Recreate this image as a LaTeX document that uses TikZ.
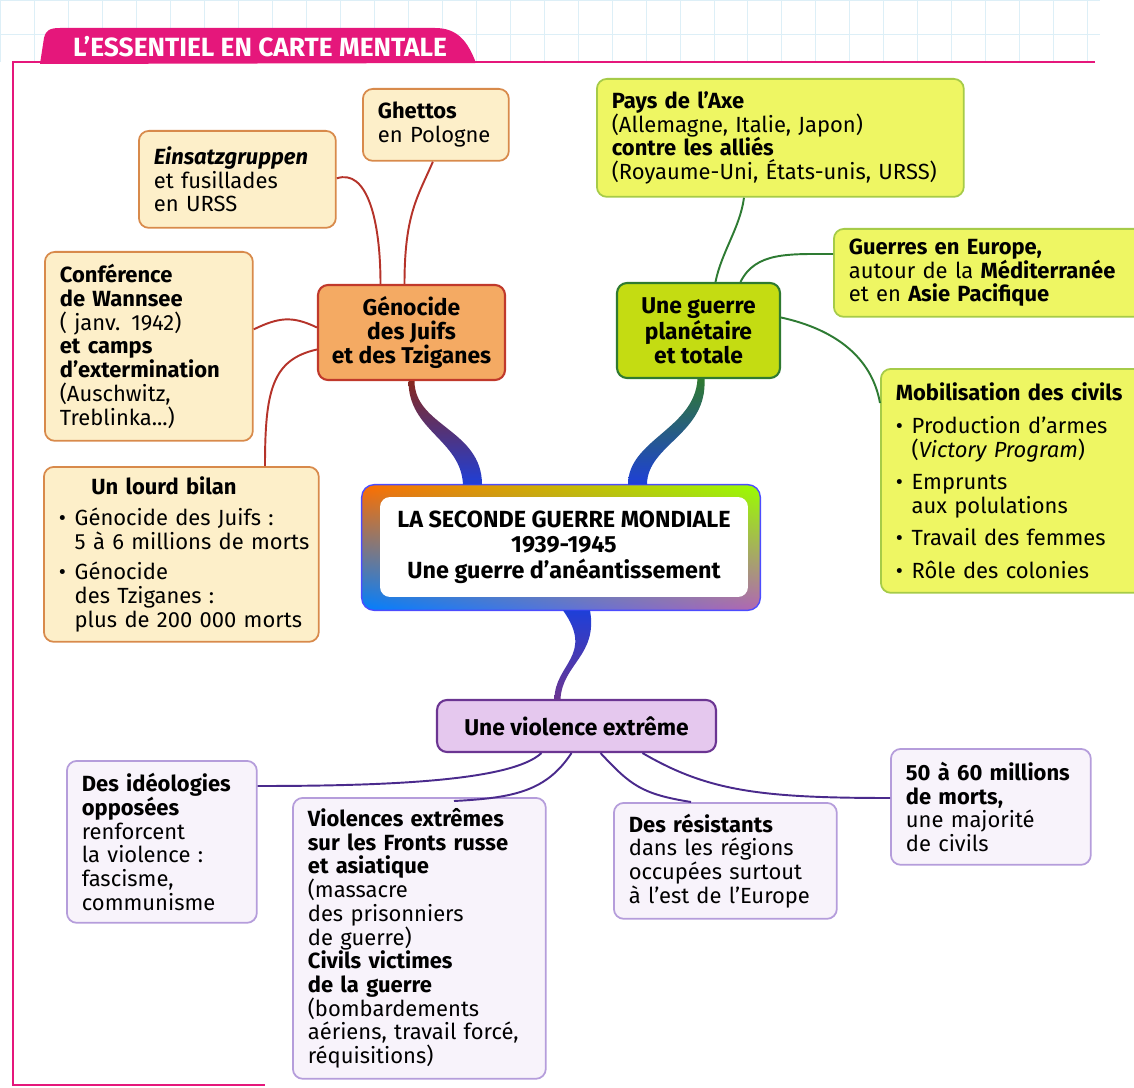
\documentclass[tikz,border=0pt]{standalone}
\usepackage{fontspec}
\setmainfont{Fira Sans}
\usetikzlibrary{calc,backgrounds,shadings}

\definecolor{pinkframe}{HTML}{E5177B}
\definecolor{gridblue}{HTML}{DDEFF7}
\definecolor{orfill}{HTML}{FDEFC9}
\definecolor{ordraw}{HTML}{D88A4B}
\definecolor{orhubfill}{HTML}{F4AA63}
\definecolor{orhubdraw}{HTML}{C0392B}
\definecolor{orwire}{HTML}{B5332A}
\definecolor{grfill}{HTML}{EEF663}
\definecolor{grdraw}{HTML}{A6CB48}
\definecolor{grhubfill}{HTML}{C4DC12}
\definecolor{grhubdraw}{HTML}{2F7A30}
\definecolor{grwire}{HTML}{2E7B33}
\definecolor{vifill}{HTML}{F8F3FB}
\definecolor{vidraw}{HTML}{B59DDB}
\definecolor{vihubfill}{HTML}{E5C8EE}
\definecolor{vihubdraw}{HTML}{6B3592}
\definecolor{viwire}{HTML}{4A2A8C}
\definecolor{branchblue}{HTML}{1E3FD8}

\newcommand{\puce}{\makebox[9pt][l]{\textbullet}}
\newcommand{\retrait}{\hspace*{9pt}}

\tikzset{
  leaf/.style={draw, rounded corners=0.2cm, line width=1pt, inner xsep=0.3cm,
    inner ysep=0.15cm, align=left, anchor=north west,
    font=\fontsize{12.5}{13.5}\selectfont},
  orleaf/.style={leaf, fill=orfill, draw=ordraw},
  grleaf/.style={leaf, fill=grfill, draw=grdraw},
  vileaf/.style={leaf, fill=vifill, draw=vidraw},
  hub/.style={draw, rounded corners=0.2cm, line width=1.2pt, align=center,
    font=\bfseries\fontsize{13}{13.5}\selectfont},
  orwire/.style={draw=orwire, line width=1.1pt},
  grwire/.style={draw=grwire, line width=1.1pt},
  viwire/.style={draw=viwire, line width=1.1pt},
}

\begin{document}
\begin{tikzpicture}[x=0.02cm, y=-0.02cm]
\useasboundingbox (0,0) rectangle (1134,1088);

% graph paper and frame
\draw[gridblue, line width=0.4pt, step=0.68cm] (0,0) grid (1100,62);
\draw[pinkframe, line width=1.2pt] (1095,62) -- (13,62) -- (13,1085) -- (265,1085);
\fill[pinkframe] (40,64) -- (44,38) .. controls (46,30) and (50,28) .. (60,28) -- (435,28)
  .. controls (458,28) and (468,42) .. (476,63) -- cycle;
\node[text=white, font=\bfseries\fontsize{15}{16}\selectfont] (title) at (260,47) {L’ESSENTIEL EN CARTE MENTALE};

% centre
\node[fill=white, rounded corners=0.2cm, minimum width=7.36cm, minimum height=2cm, align=center,
  font=\bfseries\fontsize{13.3}{14.6}\selectfont] (war) at (564,547)
  {LA SECONDE GUERRE MONDIALE\\1939-1945\\Une guerre d’anéantissement};
\begin{scope}[on background layer]
\shade[rounded corners=0.25cm, upper left=orange!85!red, upper right=yellow!60!green,
  lower left=cyan!50!blue, lower right=violet!60]
  ($(war.north west)+(-18,-12)$) rectangle ($(war.south east)+(12,13)$);
\draw[blue!70, line width=0.8pt, rounded corners=0.25cm]
  ($(war.north west)+(-18,-12)$) rectangle ($(war.south east)+(12,13)$);
\end{scope}

% genocide branch
\node[hub, fill=orhubfill, draw=orhubdraw, minimum width=3.74cm, minimum height=1.9cm] (genocide) at (411.5,332.5)
  {Génocide\\des Juifs\\et des Tziganes};
\node[orleaf, text width=2.32cm, minimum height=1.44cm] (ghettos) at (362,88) {\textbf{Ghettos}\\en Pologne};
\node[orleaf, text width=3.34cm, minimum height=1.94cm] (einsatz) at (138,130)
  {\textbf{\textit{Einsatzgruppen}}\\et fusillades\\en URSS};
\node[orleaf, text width=3.56cm, minimum height=3.78cm] (wannsee) at (44,251)
  {\textbf{Conférence}\\\textbf{de Wannsee}\\( janv. 1942)\\\textbf{et camps}\\\textbf{d’extermination}\\(Auschwitz,\\Treblinka...)};
\node[orleaf, text width=4.9cm, minimum height=3.5cm] (bilan) at (43,466)
  {\hspace*{0.65cm}\textbf{Un lourd bilan}\\[4pt]
   \puce Génocide des Juifs :\\\mbox{\retrait 5 à 6 millions de morts}\\[4pt]
   \puce Génocide\\\retrait des Tziganes :\\\mbox{\retrait plus de 200 000 morts}};

\draw[orwire] ($(genocide.north)+(-7,0)$) .. controls +(0,-70) and +(-15,35) .. ($(ghettos.south)+(-3,0)$);
\draw[orwire] ($(genocide.north)+(-31,0)$) .. controls +(0,-65) and +(30,-10) .. ($(einsatz.east)+(0,-1)$);
\draw[orwire] ($(genocide.west)+(0,-5)$) .. controls +(-25,-12) and +(25,-12) .. ($(wannsee.east)+(0,-17)$);
\draw[orwire] ($(genocide.west)+(0,17)$) .. controls +(-45,10) and +(0,-75) .. ($(bilan.north west)+(222,0)$);

\shade[top color=orhubdraw!70!black, bottom color=branchblue]
  ($(genocide.south)+(-3,0)$) .. controls +(0,50) and +(-2,-45) .. ($(war.north)+(-101,-12)$)
  -- ++(19,0) .. controls +(0,-55) and +(0,45) .. ($(genocide.south)+(3,0)$) -- cycle;

% world war branch
\node[hub, fill=grhubfill, draw=grhubdraw, minimum width=3.26cm, minimum height=1.9cm] (planet) at (698.5,330.5)
  {Une guerre\\planétaire\\et totale};
\node[grleaf, text width=6.74cm, minimum height=2.36cm] (axe) at (596,78)
  {\textbf{Pays de l’Axe}\\(Allemagne, Italie, Japon)\\\textbf{contre les alliés}\\(Royaume-Uni, États-unis, URSS)};
\node[grleaf, text width=5.8cm, minimum height=1.76cm] (europe) at (833,228)
  {\textbf{Guerres en Europe,}\\autour de la \textbf{Méditerranée}\\et en \textbf{Asie Pacifique}};
\node[grleaf, text width=4.8cm, minimum height=4.48cm] (mobil) at (880,368)
  {\textbf{Mobilisation des civils}\\[5pt]
   \puce Production d’armes\\\retrait(\textit{Victory Program})\\[5pt]
   \puce Emprunts\\\retrait aux polulations\\[5pt]
   \puce Travail des femmes\\[5pt]
   \puce Rôle des colonies};

\draw[grwire] ($(planet.north)+(17,0)$) .. controls +(6,-30) and +(-4,30) .. ($(axe.south west)+(148,0)$);
\draw[grwire] ($(planet.north)+(42,0)$) .. controls +(15,-30) and +(-45,0) .. ($(europe.north west)+(0,26)$);
\draw[grwire] ($(planet.east)+(0,-13)$) .. controls +(55,12) and +(-8,-45) .. ($(mobil.north west)+(0,35)$);

\shade[top color=grhubdraw, bottom color=branchblue]
  ($(planet.south)+(-1,0)$) .. controls +(-3,50) and +(0,-45) .. ($(war.north)+(64,-12)$)
  -- ++(19,0) .. controls +(0,-40) and +(3,55) .. ($(planet.south)+(6,0)$) -- cycle;

% violence branch
\node[hub, fill=vihubfill, draw=vihubdraw, minimum width=5.58cm, minimum height=1.04cm] (violence) at (576.5,726)
  {Une violence extrême};
\node[vileaf, text width=3.2cm, minimum height=3.24cm] (ideo) at (66,760)
  {\textbf{Des idéologies}\\\textbf{opposées}\\renforcent\\la violence :\\fascisme,\\communisme};
\node[vileaf, text width=4.46cm, minimum height=5.62cm] (fronts) at (292,797)
  {\textbf{Violences extrêmes}\\\textbf{sur les Fronts russe}\\\textbf{et asiatique}\\(massacre\\des prisonniers\\de guerre)\\
   \textbf{Civils victimes}\\\textbf{de la guerre}\\(bombardements\\aériens, travail forcé,\\réquisitions)};
\node[vileaf, text width=3.86cm, minimum height=2.32cm] (resist) at (613,802)
  {\textbf{Des résistants}\\dans les régions\\occupées surtout\\à l’est de l’Europe};
\node[vileaf, text width=3.4cm, minimum height=2.32cm] (morts) at (890,748)
  {\textbf{50 à 60 millions}\\\textbf{de morts,}\\une majorité\\de civils};

\draw[viwire] ($(violence.south)+(-35,0)$) .. controls +(-30,28) and +(130,0) .. ($(ideo.north east)+(0,26)$);
\draw[viwire] ($(violence.south)+(-5,0)$) .. controls +(-25,38) and +(60,-3) .. ($(fronts.north west)+(162,4)$);
\draw[viwire] ($(violence.south)+(24,0)$) .. controls +(30,32) and +(-50,-8) .. ($(resist.north west)+(78,0)$);
\draw[viwire] ($(violence.south)+(66,0)$) .. controls +(65,38) and +(-130,0) .. ($(morts.north west)+(0,50)$);

\shade[top color=branchblue, bottom color=vihubdraw]
  ($(war.south)+(-1,13)$) .. controls +(32,45) and +(0,-35) .. ($(violence.north)+(-22,0)$)
  -- ++(6,0) .. controls +(2,-35) and +(8,45) .. ($(war.south)+(26,13)$) -- cycle;
\end{tikzpicture}
\end{document}
